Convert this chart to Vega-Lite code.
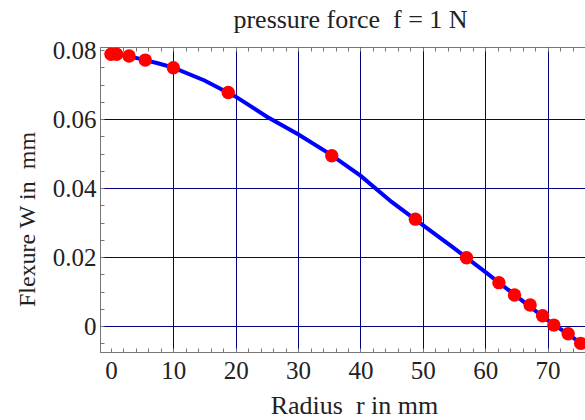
{
  "$schema": "https://vega.github.io/schema/vega-lite/v6.json",
  "width": 485,
  "height": 305,
  "autosize": {"type": "none"},
  "padding": {"left": 100, "top": 47, "right": 0, "bottom": 68},
  "background": "white",
  "config": {
    "font": "Liberation Serif",
    "view": {"stroke": "#777", "strokeWidth": 1}
  },
  "title": {
    "text": "pressure force \u00a0f = 1 N",
    "fontSize": 26,
    "fontWeight": "normal",
    "color": "#222",
    "anchor": "middle",
    "baseline": "alphabetic",
    "offset": 6,
    "dx": 8,
    "dy": 22
  },
  "datasets": {
    "curve": [
      {"r": 0, "W": 0.0788},
      {"r": 2.5, "W": 0.0784},
      {"r": 5, "W": 0.0773},
      {"r": 7.5, "W": 0.0762},
      {"r": 10, "W": 0.0749},
      {"r": 15, "W": 0.0712},
      {"r": 20, "W": 0.0665},
      {"r": 25, "W": 0.0607},
      {"r": 30, "W": 0.0556},
      {"r": 35, "W": 0.0500},
      {"r": 40, "W": 0.0436},
      {"r": 45, "W": 0.0360},
      {"r": 50, "W": 0.0293},
      {"r": 55, "W": 0.0226},
      {"r": 60, "W": 0.0157},
      {"r": 65, "W": 0.0087},
      {"r": 70, "W": 0.0017},
      {"r": 75, "W": -0.0045},
      {"r": 77, "W": -0.0070}
    ],
    "pts": [
      {"r": 0, "W": 0.0788},
      {"r": 0.9, "W": 0.0788},
      {"r": 2.9, "W": 0.0783},
      {"r": 5.5, "W": 0.0771},
      {"r": 10.0, "W": 0.0749},
      {"r": 18.8, "W": 0.0677},
      {"r": 35.4, "W": 0.0494},
      {"r": 48.8, "W": 0.0310},
      {"r": 57.0, "W": 0.0198},
      {"r": 62.2, "W": 0.0126},
      {"r": 64.7, "W": 0.0090},
      {"r": 67.2, "W": 0.0061},
      {"r": 69.2, "W": 0.0030},
      {"r": 71.0, "W": 0.0003},
      {"r": 73.3, "W": -0.0022},
      {"r": 75.3, "W": -0.0050}
    ]
  },
  "encoding": {
    "y": {
      "field": "W",
      "type": "quantitative",
      "scale": {"domain": [-0.0075, 0.0809], "nice": false, "zero": false},
      "axis": {
        "title": "Flexure W in \u00a0mm",
        "values": [-0.005, 0, 0.005, 0.01, 0.015, 0.02, 0.025, 0.03, 0.035, 0.04, 0.045, 0.05, 0.055, 0.06, 0.065, 0.07, 0.075, 0.08],
        "labelExpr": "abs(round(datum.value*1000)) % 20 == 0 ? (datum.value == 0 ? '0' : format(datum.value, '.2f')) : ''",
        "labelFontSize": 25,
        "labelColor": "#222",
        "labelPadding": 8,
        "labelFlush": false,
        "labelOverlap": false,
        "tickSize": -4,
        "tickColor": "#777",
        "domainColor": "#777",
        "grid": true,
        "gridColor": {"condition": {"test": "abs(round(datum.value*1000)) % 20 == 0 && datum.value < 0.079", "value": "#000080"}, "value": "transparent"},
        "gridWidth": 1,
        "titleFontSize": 24,
        "titleFontWeight": "normal",
        "titleColor": "#222",
        "titleX": -66,
        "titleY": 172,
        "titleAlign": "center",
        "titleBaseline": "alphabetic"
      }
    }
  },
  "layer": [
    {
      "data": {"name": "curve"},
      "mark": {"type": "line", "color": "#0000FF", "strokeWidth": 4, "clip": true},
      "encoding": {
        "x": {
          "field": "r",
          "type": "quantitative",
          "scale": {"domain": [-1.76, 76], "nice": false, "zero": false},
          "axis": {
            "orient": "bottom",
            "title": "Radius \u00a0r in mm",
            "values": [0, 2, 4, 6, 8, 10, 12, 14, 16, 18, 20, 22, 24, 26, 28, 30, 32, 34, 36, 38, 40, 42, 44, 46, 48, 50, 52, 54, 56, 58, 60, 62, 64, 66, 68, 70, 72, 74],
            "labelExpr": "datum.value % 10 == 0 ? format(datum.value, 'd') : ''",
            "labelFontSize": 25,
            "labelColor": "#222",
            "labelPadding": 10,
            "labelFlush": false,
            "labelOverlap": false,
            "tickSize": -4,
            "tickColor": "#777",
            "domainColor": "#777",
            "grid": true,
            "gridColor": {"condition": {"test": "datum.value % 10 == 0 && datum.value > 0", "value": "#000080"}, "value": "transparent"},
            "gridWidth": 1,
            "titleFontSize": 26,
            "titleFontWeight": "normal",
            "titleColor": "#222",
            "titleX": 254,
            "titleY": 61,
            "titleBaseline": "alphabetic"
          }
        }
      }
    },
    {
      "data": {"name": "pts"},
      "mark": {"type": "circle", "color": "#FF0000", "opacity": 1, "size": 180, "clip": true},
      "encoding": {
        "x": {
          "field": "r",
          "type": "quantitative",
          "scale": {"domain": [-1.76, 76], "nice": false, "zero": false},
          "axis": {
            "orient": "top",
            "title": null,
            "values": [0, 2, 4, 6, 8, 10, 12, 14, 16, 18, 20, 22, 24, 26, 28, 30, 32, 34, 36, 38, 40, 42, 44, 46, 48, 50, 52, 54, 56, 58, 60, 62, 64, 66, 68, 70, 72, 74],
            "labels": false,
            "tickSize": -4,
            "tickColor": "#777",
            "domain": false,
            "grid": false,
            "minExtent": 0,
            "maxExtent": 0
          }
        }
      }
    }
  ],
  "resolve": {"axis": {"x": "independent"}}
}
